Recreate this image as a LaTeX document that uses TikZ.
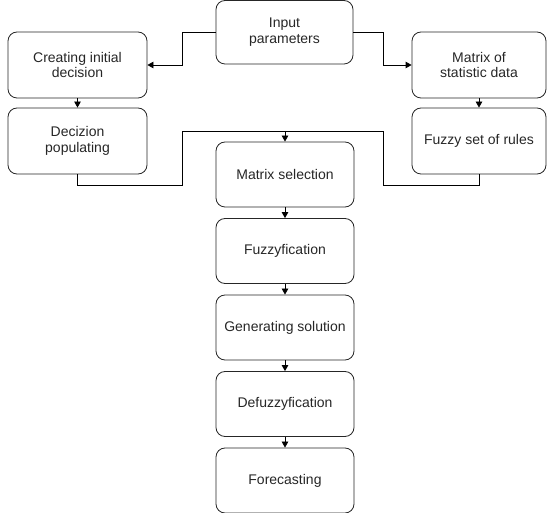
\documentclass[tikz,border=0pt]{standalone}
\usepackage{fontspec}
\setmainfont{Liberation Sans}
\usetikzlibrary{arrows.meta}
\begin{document}
\begin{tikzpicture}[x=1pt,y=-1pt,
  box/.style={draw=black!85, line width=0.8pt, rounded corners=9pt, minimum height=65pt, align=center,
    font=\fontsize{14}{15.5}\selectfont, text=black!85, inner sep=0pt},
  arr/.style={draw=black, line width=0.8pt, -{Triangle[length=6pt,width=6.5pt]}},
  ln/.style={draw=black, line width=0.8pt}]
\useasboundingbox (0,0) rectangle (547,513);
\node[box, minimum width=137pt, minimum height=63.5pt] (inp) at (284.5,32.25) {Input\\parameters};
\node[box, minimum width=139pt, minimum height=66pt] (cid) at (77.5,65) {Creating initial\\decision};
\node[box, minimum width=139pt, minimum height=66pt] (dp) at (77.5,141) {Decizion\\populating};
\node[box, minimum width=134pt, minimum height=66pt] (msd) at (479,65) {Matrix of\\statistic data};
\node[box, minimum width=134pt, minimum height=66pt] (fsr) at (479,141) {Fuzzy set of rules};
\node[box, minimum width=138pt] (ms) at (285,174.5) {Matrix selection};
\node[box, minimum width=138pt] (fz) at (285,251) {Fuzzyfication};
\node[box, minimum width=138pt] (gs) at (285,327.5) {Generating solution};
\node[box, minimum width=138pt] (df) at (285,404) {Defuzzyfication};
\node[box, minimum width=138pt] (fc) at (285,480.5) {Forecasting};
\coordinate (j) at (285,131);
\draw[arr] (inp.west) -- (182,32.25) |- (cid.east);
\draw[arr] (inp.east) -- (383,32.25) |- (msd.west);
\draw[arr] (cid.south) -- (dp.north);
\draw[arr] (msd.south) -- (fsr.north);
\draw[ln] (dp.south) -- (77.5,185) -- (182,185) |- (j);
\draw[ln] (fsr.south) -- (479,185) -- (383,185) |- (j);
\draw[arr] (j) -- (ms.north);
\draw[arr] (ms.south) -- (fz.north);
\draw[arr] (fz.south) -- (gs.north);
\draw[arr] (gs.south) -- (df.north);
\draw[arr] (df.south) -- (fc.north);
\end{tikzpicture}
\end{document}
